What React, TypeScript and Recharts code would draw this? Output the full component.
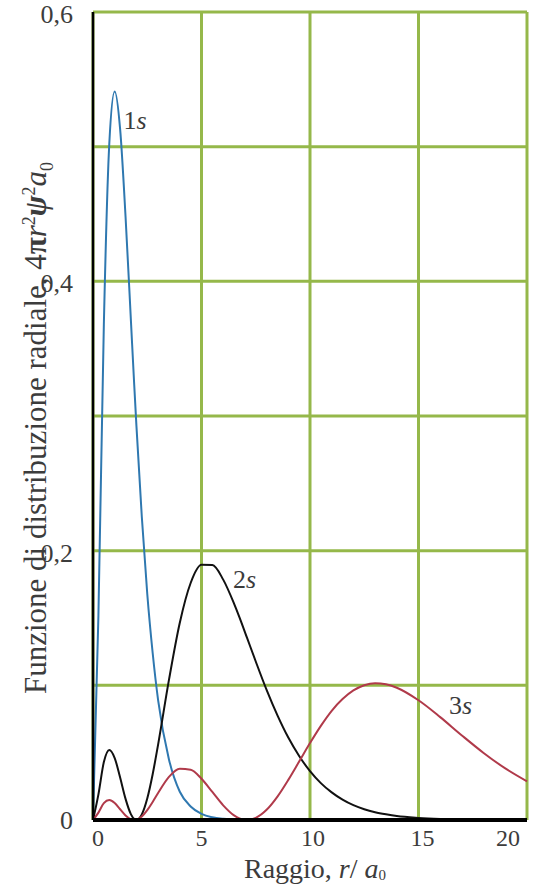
import { LineChart, Line, XAxis, YAxis, CartesianGrid, ReferenceDot, Label } from 'recharts';

// raggio r/a0 (campioni)
const radius = [0, 0.25, 0.5, 0.75, 1, 1.25, 1.5, 1.75, 1.9, 2, 2.25, 2.5, 2.75, 3, 3.5, 4, 4.5, 5, 5.5, 6, 6.5, 6.75, 7.1, 7.5, 8, 8.5, 9, 9.5, 10, 10.5, 11, 11.5, 12, 12.5, 13, 13.5, 14, 15, 16, 17, 18, 19, 20];
const s1 = [0, 0.152, 0.368, 0.502, 0.541, 0.513, 0.448, 0.37, 0.323, 0.293, 0.225, 0.168, 0.124, 0.089, 0.045, 0.021, 0.01, 0.0045, 0.002, 0.0009, 0.0004, 0.0002, 0.0001, 0, 0, 0, 0, 0, 0, 0, 0, 0, 0, 0, 0, 0, 0, 0, 0, 0, 0, 0, 0];
const s2 = [0, 0.019, 0.043, 0.052, 0.046, 0.0315, 0.0157, 0.0042, 0.0007, 0, 0.0042, 0.016, 0.034, 0.056, 0.104, 0.1465, 0.176, 0.1895, 0.1893, 0.1785, 0.1607, 0.1505, 0.1352, 0.1177, 0.0966, 0.0777, 0.0612, 0.0475, 0.0363, 0.0274, 0.0205, 0.0151, 0.011, 0.008, 0.0058, 0.0042, 0.0029, 0.0015, 0.0007, 0.0003, 0.0001, 0.0001, 0];
const s3 = [0, 0.0055, 0.0125, 0.0148, 0.0126, 0.008, 0.0034, 0.0005, 0, 0.0002, 0.0026, 0.0073, 0.0134, 0.02, 0.032, 0.038, 0.0373, 0.0306, 0.0208, 0.0109, 0.0034, 0.0012, 0, 0.0016, 0.0076, 0.0174, 0.0298, 0.0434, 0.0571, 0.0699, 0.0811, 0.0898, 0.0962, 0.1001, 0.1016, 0.1008, 0.0982, 0.0889, 0.0764, 0.0628, 0.0498, 0.0383, 0.0287];

const xTicks = [0, 5, 10, 15, 20];
const yTicks = [0, 0.1, 0.2, 0.3, 0.4, 0.5, 0.6];

// etichette delle curve, in coordinate dei dati
const tags = [
  { n: '1', x: 1.4, y: 0.519 },
  { n: '2', x: 6.45, y: 0.178 },
  { n: '3', x: 16.4, y: 0.085 },
];

const rows = radius.map((r, i) => ({ r, s1: s1[i], s2: s2[i], s3: s3[i] }));

const FONT = '"Liberation Serif", "DejaVu Serif", serif';
const INK = '#3c3c3c';
const GREEN = '#95b84a';
const txt = { fontFamily: FONT };

function XTick({ x, y, payload }: any) {
  const v = payload.value;
  const shift = v === 0 ? 5 : v === 20 ? -19 : v === 10 ? 3 : v === 15 ? 4 : 0;
  return (
    <text x={x + shift} y={y} dy="0.71em" textAnchor="middle" fontSize={24} fill={INK} style={txt}>
      {v}
    </text>
  );
}

function YTick({ x, y, payload }: any) {
  const v = payload.value;
  if (Math.round(v * 10) % 2 !== 0) return null;
  const label = v === 0 ? '0' : v.toFixed(1).replace('.', ',');
  return (
    <text x={x} y={y} dy={v === 0 ? 9 : 11} textAnchor="end" fontSize={26} fill={INK} style={txt}>
      {label}
    </text>
  );
}

function XTitle({ viewBox }: any) {
  const cx = viewBox.x + viewBox.width / 2 + 5;
  return (
    <text x={cx} y={viewBox.y + 58} textAnchor="middle" fontSize={28} fill={INK} style={txt}>
      Raggio, <tspan fontStyle="italic">r</tspan>/<tspan fontStyle="italic"> a</tspan>
      <tspan fontSize={15} dy={2}>0</tspan>
    </text>
  );
}

function YTitle({ viewBox }: any) {
  const x = viewBox.x + 46;
  const y = viewBox.y + viewBox.height / 2 + 12;
  return (
    <text x={x} y={y} textAnchor="middle" fontSize={31} fill={INK} style={txt} transform={`rotate(-90, ${x}, ${y})`}>
      Funzione di distribuzione radiale, 4<tspan fontWeight="bold">π</tspan>
      <tspan fontStyle="italic">r</tspan>
      <tspan fontSize={18} dy={-11}>2</tspan>
      <tspan fontStyle="italic" fontWeight="bold" dy={11}>ψ</tspan>
      <tspan fontSize={18} dy={-11}>2</tspan>
      <tspan fontStyle="italic" dy={11}>a</tspan>
      <tspan fontSize={18} dy={7}>0</tspan>
    </text>
  );
}

const tagShape = (n: string) => (p: any) => (
  <text x={p.cx} y={p.cy} dy={8} fontSize={26} fill={INK} style={txt}>
    {n}<tspan fontStyle="italic">s</tspan>
  </text>
);

export default function App() {
  return (
    <div style={{ position: 'absolute', left: 0, top: 0, background: '#fff', fontFamily: FONT }}>
      <LineChart width={536} height={885} data={rows} margin={{ top: 12, right: 9, bottom: 0, left: 0 }}>
        <CartesianGrid stroke={GREEN} strokeWidth={3} />
        <XAxis
          dataKey="r"
          type="number"
          domain={[0, 20]}
          ticks={xTicks}
          height={65}
          tickLine={false}
          tickMargin={3}
          tick={<XTick />}
          axisLine={{ stroke: '#000', strokeWidth: 4 }}
        >
          <Label content={<XTitle />} />
        </XAxis>
        <YAxis
          type="number"
          domain={[0, 0.6]}
          ticks={yTicks}
          width={93}
          tickLine={false}
          tickMargin={14}
          tick={<YTick />}
          axisLine={{ stroke: '#000', strokeWidth: 2.5 }}
        >
          <Label content={<YTitle />} />
        </YAxis>
        <Line type="monotone" dataKey="s1" stroke="#2f78b0" strokeWidth={2} dot={false} isAnimationActive={false} />
        <Line type="monotone" dataKey="s2" stroke="#111111" strokeWidth={2} dot={false} isAnimationActive={false} />
        <Line type="monotone" dataKey="s3" stroke="#b03a4a" strokeWidth={2} dot={false} isAnimationActive={false} />
        {tags.map(t => (
          <ReferenceDot key={t.n} x={t.x} y={t.y} r={0} shape={tagShape(t.n)} />
        ))}
      </LineChart>
    </div>
  );
}
